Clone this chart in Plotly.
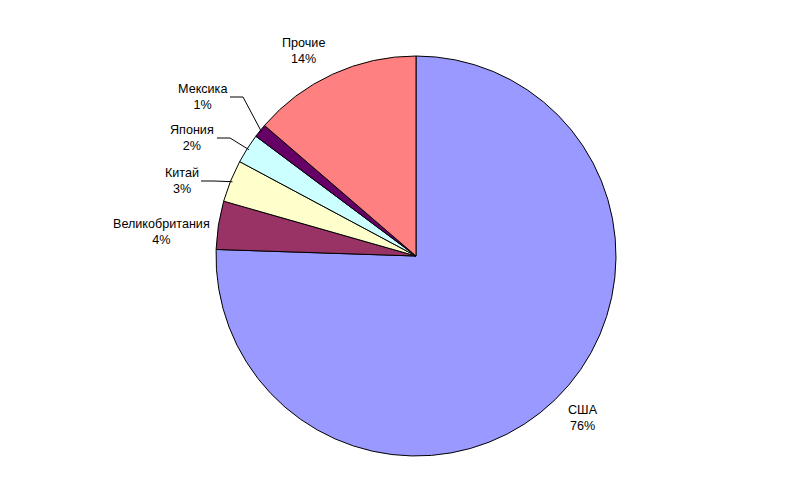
import math
import plotly.graph_objects as go

categories = ["США", "Великобритания", "Китай", "Япония", "Мексика", "Прочие"]
values = [75.52, 3.9, 3.4, 2.4, 1.1, 13.68]
colors = ["#9999FF", "#993366", "#FFFFCC", "#CCFFFF", "#660066", "#FF8080"]

W, H = 800, 498
CX, CY, R = 416, 256, 200

# label placement (pixel centre of each label) and optional leader start
label_pos = {
    "США": (583, 418, None),
    "Великобритания": (161, 232, None),
    "Китай": (182, 181, 201),
    "Япония": (192, 138, 217),
    "Мексика": (203, 97, 230),
    "Прочие": (303, 51, None),
}

fig = go.Figure(go.Pie(
    labels=categories, values=values, sort=False, direction="clockwise",
    rotation=0, marker=dict(colors=colors, line=dict(color="black", width=1)),
    textinfo="none", hoverinfo="label+percent", showlegend=False,
    domain=dict(x=[(CX - R) / W, (CX + R) / W], y=[1 - (CY + R) / H, 1 - (CY - R) / H]),
))

def px(x, y):
    return x / W, 1 - y / H

total = sum(values)
cum = 0.0
annotations = []
shapes = []
for cat, v in zip(categories, values):
    mid = (cum + v / 2) / total * 2 * math.pi
    cum += v
    pct = round(v / total * 100)
    lx, ly, lead = label_pos[cat]
    ax, ay = px(lx, ly)
    annotations.append(dict(
        x=ax, y=ay, xref="paper", yref="paper", showarrow=False,
        text=f"{cat}<br>{pct}%", align="center", xanchor="center", yanchor="middle",
        font=dict(family="Liberation Sans, Arial", size=12.6, color="black"),
    ))
    if lead is not None:
        ex = CX + (R - 2) * math.sin(mid)
        ey = CY - (R - 2) * math.cos(mid)
        x0, y0 = px(lead, ly)
        x1, y1 = px(lead + 13, ly)
        x2, y2 = px(ex, ey)
        shapes.append(dict(
            type="path", xref="paper", yref="paper",
            path=f"M {x0} {y0} L {x1} {y1} L {x2} {y2}",
            line=dict(color="black", width=1),
        ))

fig.update_layout(
    width=W, height=H, margin=dict(l=0, r=0, t=0, b=0),
    paper_bgcolor="white", plot_bgcolor="white",
    annotations=annotations, shapes=shapes,
)
fig.write_html("out.html", config={"displayModeBar": False},
               post_script="document.body.style.margin='0';")
